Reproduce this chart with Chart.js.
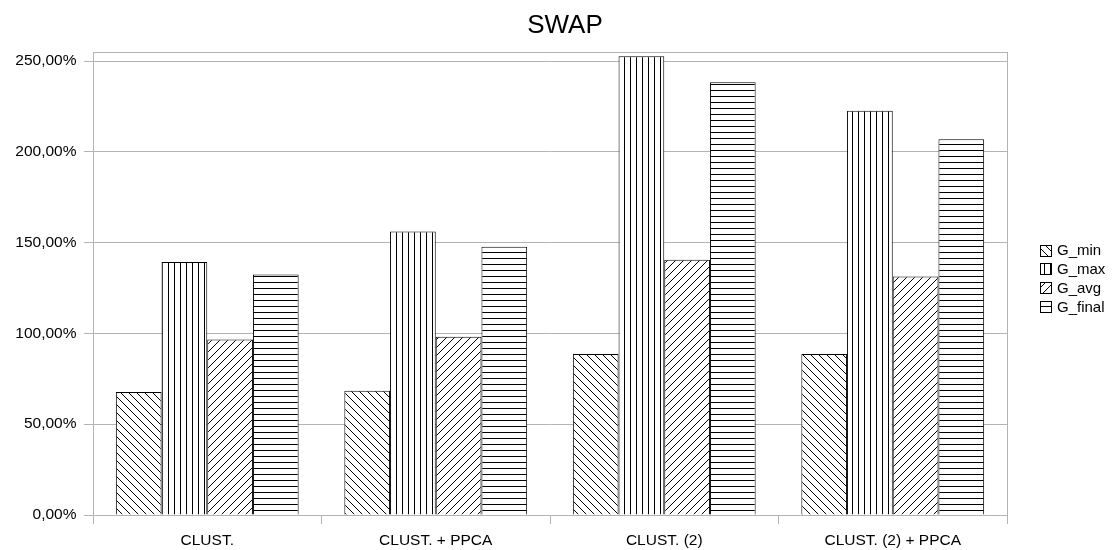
<!DOCTYPE html>
<html>
<head>
<meta charset="utf-8">
<title>SWAP</title>
<script src="https://cdn.jsdelivr.net/npm/chart.js@4/dist/chart.umd.min.js"></script>
<style>
  html, body { margin: 0; padding: 0; background: #fff; }
  #wrap { width: 1112px; height: 550px; }
</style>
</head>
<body>
<div id="wrap"><canvas id="chart" width="1112" height="550"></canvas></div>
<script>
// Categories and series (percent values)
const categories = ['CLUST.', 'CLUST. + PPCA', 'CLUST. (2)', 'CLUST. (2) + PPCA'];
const gMin   = [67.7, 68.5, 88.7, 88.7];
const gMax   = [139.3, 156.1, 252.6, 222.7];
const gAvg   = [96.6, 98.2, 140.6, 131.3];
const gFinal = [132.4, 147.8, 238.3, 206.9];
const seriesNames = ['G_min', 'G_max', 'G_avg', 'G_final'];
const yTicks = [0, 50, 100, 150, 200, 250];
const chartTitle = 'SWAP';

const FONT = '"Liberation Sans", Arial, sans-serif';
const GRID = '#b3b3b3';

// Hatch fills built from small repeating tiles
function hatch(kind) {
  const s = kind === 'v' || kind === 'h' ? 6 : 8;
  const c = document.createElement('canvas');
  c.width = s; c.height = s;
  const g = c.getContext('2d');
  g.fillStyle = '#fff';
  g.fillRect(0, 0, s, s);
  g.strokeStyle = '#000';
  g.lineWidth = 1;
  g.beginPath();
  if (kind === 'v') {
    g.moveTo(0.5, 0); g.lineTo(0.5, s);
  } else if (kind === 'h') {
    g.moveTo(0, 0.5); g.lineTo(s, 0.5);
  } else if (kind === 'back') {          // "\" direction
    g.moveTo(-1, -1); g.lineTo(s + 1, s + 1);
    g.moveTo(-1, s - 1); g.lineTo(1, s + 1);
    g.moveTo(s - 1, -1); g.lineTo(s + 1, 1);
  } else {                               // "/" direction
    g.moveTo(-1, s + 1); g.lineTo(s + 1, -1);
    g.moveTo(-1, 1); g.lineTo(1, -1);
    g.moveTo(s - 1, s + 1); g.lineTo(s + 1, s - 1);
  }
  g.stroke();
  return c;
}

const ctx = document.getElementById('chart').getContext('2d');
const fills = [
  ctx.createPattern(hatch('back'), 'repeat'),
  ctx.createPattern(hatch('v'), 'repeat'),
  ctx.createPattern(hatch('fwd'), 'repeat'),
  ctx.createPattern(hatch('h'), 'repeat')
];
const values = [gMin, gMax, gAvg, gFinal];

const fmt = v => v.toFixed(2).replace('.', ',') + '%';

// Title, plot frame and legend drawn on top of the chart
const decorations = {
  id: 'decorations',
  afterDraw(chart) {
    const c = chart.ctx;
    const a = chart.chartArea;
    c.save();
    // frame: top and right edges of the plot
    c.strokeStyle = GRID;
    c.lineWidth = 1;
    c.beginPath();
    c.moveTo(a.left, Math.round(a.top) + 0.5);
    c.lineTo(a.right, Math.round(a.top) + 0.5);
    c.moveTo(Math.round(a.right) + 0.5, a.top);
    c.lineTo(Math.round(a.right) + 0.5, a.bottom);
    c.stroke();

    // title
    c.fillStyle = '#000';
    c.font = '26px ' + FONT;
    c.textAlign = 'center';
    c.textBaseline = 'alphabetic';
    c.fillText(chartTitle, 565, 33);

    // legend
    c.font = '15px ' + FONT;
    c.textAlign = 'left';
    const x0 = 1040, y0 = 250, step = 18.8, box = 11;
    seriesNames.forEach((name, i) => {
      const cy = y0 + i * step;
      const top = Math.round(cy - box / 2);
      c.fillStyle = fills[i];
      c.fillRect(x0, top, box, box);
      c.strokeStyle = '#000';
      c.strokeRect(x0 + 0.5, top + 0.5, box, box);
      c.fillStyle = '#000';
      c.fillText(name, 1057, cy + 5.4);
    });
    c.restore();
  }
};

new Chart(ctx, {
  type: 'bar',
  data: {
    labels: categories,
    datasets: seriesNames.map((name, i) => ({
      label: name,
      data: values[i],
      backgroundColor: fills[i],
      borderColor: '#000',
      borderWidth: 1,
      categoryPercentage: 0.8,
      barPercentage: 1.0
    }))
  },
  options: {
    responsive: false,
    animation: false,
    layout: { padding: { top: 52, right: 105, bottom: 0, left: 0 } },
    plugins: {
      legend: { display: false },
      title: { display: false },
      tooltip: { enabled: false }
    },
    scales: {
      x: {
        afterFit(scale) { scale.height = 35; },
        grid: {
          display: true,
          drawOnChartArea: false,
          drawTicks: true,
          tickLength: 9,
          color: GRID,
          offset: true
        },
        border: { display: true, color: GRID },
        ticks: {
          color: '#000',
          font: { family: FONT, size: 15.5 },
          padding: 7,
          maxRotation: 0
        }
      },
      y: {
        min: 0,
        max: 255,
        afterFit(scale) { scale.width = 93; },
        afterBuildTicks(scale) { scale.ticks = yTicks.map(v => ({ value: v })); },
        grid: {
          color: GRID,
          tickLength: 9
        },
        border: { display: true, color: GRID },
        ticks: {
          color: '#000',
          font: { family: FONT, size: 15.5 },
          padding: 7.5,
          callback: v => fmt(v)
        }
      }
    }
  },
  plugins: [decorations]
});
</script>
</body>
</html>
